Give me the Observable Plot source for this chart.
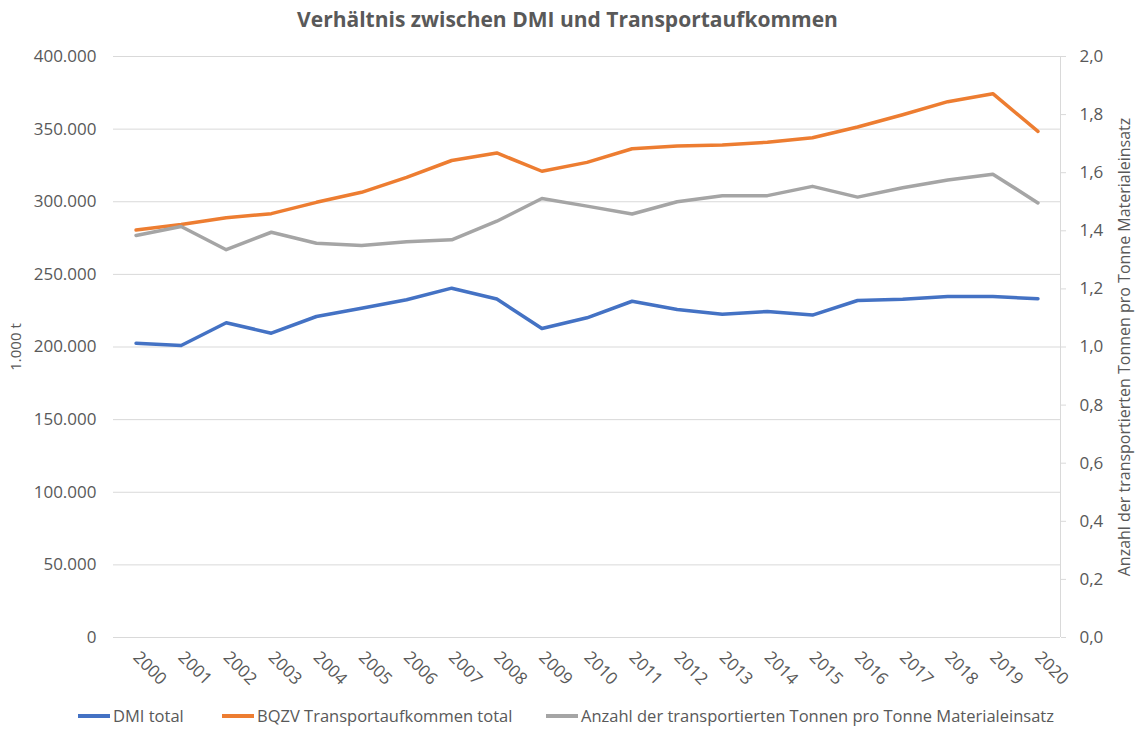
<!DOCTYPE html>
<html><head><meta charset="utf-8">
<script src="https://cdn.jsdelivr.net/npm/d3@7"></script>
<script src="https://cdn.jsdelivr.net/npm/@observablehq/plot@0.6"></script>
<style>
body{margin:0;background:#fff;font-family:"Open Sans",sans-serif;width:1135px;height:731px;position:relative;overflow:hidden;}
#title{height:36px;line-height:38px;text-align:center;font-weight:bold;font-size:21px;color:#595959;}
#chart svg{display:block;}
#legend{position:absolute;left:0;top:700px;width:1135px;height:31px;font-size:16.5px;color:#595959;}
.item{position:absolute;top:0;height:31px;display:flex;align-items:center;}
.sw{width:32px;height:4px;margin-right:3px;}
</style></head><body>
<div id="title">Verhältnis zwischen DMI und Transportaufkommen</div>
<div id="chart"></div>
<div id="legend"></div>
<script>
const years = [2000,2001,2002,2003,2004,2005,2006,2007,2008,2009,2010,2011,2012,2013,2014,2015,2016,2017,2018,2019,2020];
// 1.000 t
const dmiTotal = [202600,201000,216700,209500,221000,226700,232500,240500,233000,212700,220100,231500,225800,222600,224400,222000,232000,232800,234800,234800,233200];
const bqzvTotal = [280500,284300,289000,291800,299600,306500,316800,328400,333600,321000,327100,336500,338300,339000,341000,344100,351500,359900,368900,374400,348400];
// Tonnen pro Tonne (rechte Achse)
const ratio = [1.384,1.415,1.335,1.395,1.357,1.349,1.362,1.369,1.433,1.511,1.485,1.458,1.500,1.521,1.521,1.553,1.516,1.548,1.575,1.595,1.496];
const seriesNames = ["DMI total","BQZV Transportaufkommen total","Anzahl der transportierten Tonnen pro Tonne Materialeinsatz"];
const colors = ["#4472C4","#ED7D31","#A5A5A5"];
const leftTicks = [0,50000,100000,150000,200000,250000,300000,350000,400000];
const rightTicks = [0,0.2,0.4,0.6,0.8,1.0,1.2,1.4,1.6,1.8,2.0];
const leftLabel = "1.000 t";
const rightLabel = "Anzahl der transportierten Tonnen pro Tonne Materialeinsatz";

const k = 200000; // right 2,0 == left 400.000
const rows = years.map((y,i)=>({year:y, dmi:dmiTotal[i], bqzv:bqzvTotal[i], ratio:ratio[i]*k}));
const de = d3.formatLocale({decimal:",",thousands:".",grouping:[3],currency:["","€"]});
const fmtL = de.format(",");

const chart = Plot.plot({
  width: 1135, height: 664,
  marginLeft: 113, marginRight: 75, marginTop: 20, marginBottom: 63,
  style: {fontFamily: "'Open Sans', sans-serif", fontSize: "17px", color: "#595959", background: "#fff"},
  x: {domain: [1999.5, 2020.5], label: null},
  y: {domain: [0, 400000], label: null},
  marks: [
    Plot.gridY(leftTicks, {stroke: "#d9d9d9", strokeOpacity: 1, strokeWidth: 1}),
    Plot.ruleX([2020.5], {stroke: "#d9d9d9", strokeWidth: 1}),
    Plot.axisY(leftTicks, {tickSize: 0, tickPadding: 17, tickFormat: fmtL, label: null, fill: "#595959"}),
    Plot.axisY(rightTicks.map(v=>v*k), {anchor: "right", tickSize: 5, tickPadding: 14, stroke: "#d9d9d9", fill: "#595959",
      tickFormat: d => (d/k).toFixed(1).replace(".", ","), label: null}),
    Plot.axisX(years, {tickRotate: 45, tickSize: 0, tickPadding: 17, tickFormat: d => String(d), label: null, fill: "#595959"}),
    Plot.text([leftLabel], {frameAnchor: "left", textAnchor: "middle", dx: -97, rotate: -90, fill: "#595959", fontSize: 15}),
    Plot.text([rightLabel], {frameAnchor: "right", textAnchor: "middle", dx: 64, rotate: -90, fill: "#595959", fontSize: 16}),
    Plot.line(rows, {x: "year", y: "dmi", stroke: colors[0], strokeWidth: 3.5}),
    Plot.line(rows, {x: "year", y: "bqzv", stroke: colors[1], strokeWidth: 3.5}),
    Plot.line(rows, {x: "year", y: "ratio", stroke: colors[2], strokeWidth: 3.5})
  ]
});
document.getElementById("chart").appendChild(chart);

const lefts = [78, 222, 546];
const lg = document.getElementById("legend");
seriesNames.forEach((n,i)=>{
  const it = document.createElement("div");
  it.className = "item"; it.style.left = lefts[i] + "px";
  it.innerHTML = `<div class="sw" style="background:${colors[i]}"></div><span>${n}</span>`;
  lg.appendChild(it);
});
</script>
</body></html>
